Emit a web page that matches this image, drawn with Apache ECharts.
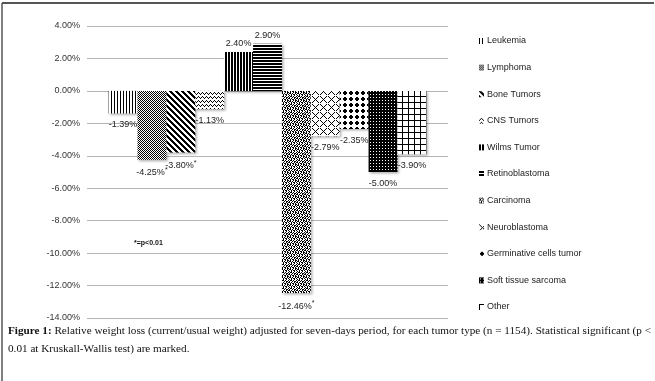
<!DOCTYPE html>
<html>
<head>
<meta charset="utf-8">
<script src="https://cdn.jsdelivr.net/npm/echarts@6/dist/echarts.min.js"></script>
<style>
  html, body { margin: 0; padding: 0; background: #fff; }
  #chart { width: 655px; height: 381px; }
</style>
</head>
<body>
<div id="chart"></div>
<script>
// tumor types (one series each, as in the original Excel chart)
const tumorTypes = [
  "Leukemia", "Lymphoma", "Bone Tumors", "CNS Tumors", "Wilms Tumor",
  "Retinoblastoma", "Carcinoma", "Neuroblastoma", "Germinative cells tumor",
  "Soft tissue sarcoma", "Other"
];
// relative weight loss, %
const weightLoss = [-1.39, -4.25, -3.80, -1.13, 2.40, 2.90, -12.46, -2.79, -2.35, -5.00, -3.90];
// p < 0.01 flags
const significant = [false, true, true, false, false, false, true, false, false, false, false];
const yTicks = { min: -14, max: 4, step: 2 };

// fill patterns, '#' = black pixel
const patterns = [
  ["#.."],
  ["#.", ".#"],
  ["###...", ".###..", "..###.", "...###", "#...##", "##...#"],
  ["..#...#.", ".#.#.#.#", "#...#...", "........"],
  ["##."],
  ["#", "#", "."],
  ["#.##.#..", ".#..#.##", "##.#..#.", "..#.##.#", "#.#..#.#", ".##.#..#", "#..#.##.", ".#.#..#."],
  ["#.....#.", ".#...#..", "..#.#...", "...#....", "..#.#...", ".#...#..", "#.....#.", "........"],
  ["......", "..##..", ".####.", ".####.", "..##..", "......"],
  ["###", "#.#", "###"],
  ["######", "#.....", "#.....", "#.....", "#.....", "#....."]
];

function makePattern(rows) {
  const c = document.createElement("canvas");
  c.width = rows[0].length;
  c.height = rows.length;
  const ctx = c.getContext("2d");
  ctx.fillStyle = "#fff";
  ctx.fillRect(0, 0, c.width, c.height);
  ctx.fillStyle = "#000";
  rows.forEach((r, y) => {
    for (let x = 0; x < r.length; x++) if (r[x] === "#") ctx.fillRect(x, y, 1, 1);
  });
  return { image: c, repeat: "repeat" };
}

const fmt = (v) => v.toFixed(2) + "%";

const series = tumorTypes.map((name, i) => ({
  name,
  type: "bar",
  barGap: "0%",
  barCategoryGap: "12%",
  data: [weightLoss[i]],
  itemStyle: {
    color: makePattern(patterns[i]),
    shadowColor: "rgba(0,0,0,0.3)",
    shadowBlur: 2,
    shadowOffsetX: 1.5,
    shadowOffsetY: 1.5
  },
  label: {
    show: true,
    position: weightLoss[i] < 0 ? "bottom" : "top",
    distance: weightLoss[i] < 0 ? 7 : 4,
    formatter: (p) => "{v|" + fmt(p.value) + "}" + (significant[i] ? "{s|*}" : ""),
    rich: {
      v: { fontSize: 9, color: "#222", fontFamily: "Liberation Sans" },
      s: { fontSize: 7, color: "#222", fontFamily: "Liberation Sans", verticalAlign: "top", padding: [0, 0, 5, 0] }
    }
  }
}));

const chart = echarts.init(document.getElementById("chart"), null, { renderer: "canvas" });
chart.setOption({
  animation: false,
  backgroundColor: "#fff",
  grid: { left: 87, right: 207, top: 26, bottom: 63 },
  xAxis: {
    type: "category",
    data: [""],
    axisLine: { show: false },
    axisTick: { show: false },
    axisLabel: { show: false }
  },
  yAxis: {
    type: "value",
    min: yTicks.min,
    max: yTicks.max,
    interval: yTicks.step,
    axisLine: { show: false },
    axisTick: { show: false },
    axisLabel: {
      formatter: fmt,
      fontSize: 9,
      color: "#333",
      fontFamily: "Liberation Sans",
      margin: 7
    },
    splitLine: { lineStyle: { color: "#b4b4b4", width: 1 } }
  },
  legend: {
    orient: "vertical",
    left: 474,
    top: 30,
    itemWidth: 5,
    itemHeight: 6,
    itemGap: 14.6,
    icon: "rect",
    textStyle: { fontSize: 9, color: "#222", fontFamily: "Liberation Sans", lineHeight: 12, height: 12, padding: [0, 0, 0, -2] },
    data: tumorTypes
  },
  graphic: [
    { type: "line", shape: { x1: 2, y1: 3, x2: 654, y2: 3 }, style: { stroke: "#555", lineWidth: 2 } },
    { type: "line", shape: { x1: 2, y1: 3, x2: 2, y2: 381 }, style: { stroke: "#555", lineWidth: 1.5 } },
    {
      type: "text", left: 134, top: 240,
      style: { text: "*=p<0.01", fontSize: 7, fill: "#111", fontFamily: "Liberation Sans", fontWeight: "bold" }
    },
    {
      type: "text", left: 8, top: 326,
      style: {
        text: "{b|Figure 1:} Relative weight loss (current/usual weight) adjusted for seven-days period, for each tumor type (n = 1154). Statistical significant (p <",
        fontSize: 11.2, fill: "#111", fontFamily: "Liberation Serif",
        rich: { b: { fontWeight: "bold", fontSize: 11.2, fontFamily: "Liberation Serif", fill: "#111" } }
      }
    },
    {
      type: "text", left: 8, top: 344,
      style: { text: "0.01 at Kruskall-Wallis test) are marked.", fontSize: 11.2, fill: "#111", fontFamily: "Liberation Serif" }
    }
  ],
  series
});
</script>
</body>
</html>
